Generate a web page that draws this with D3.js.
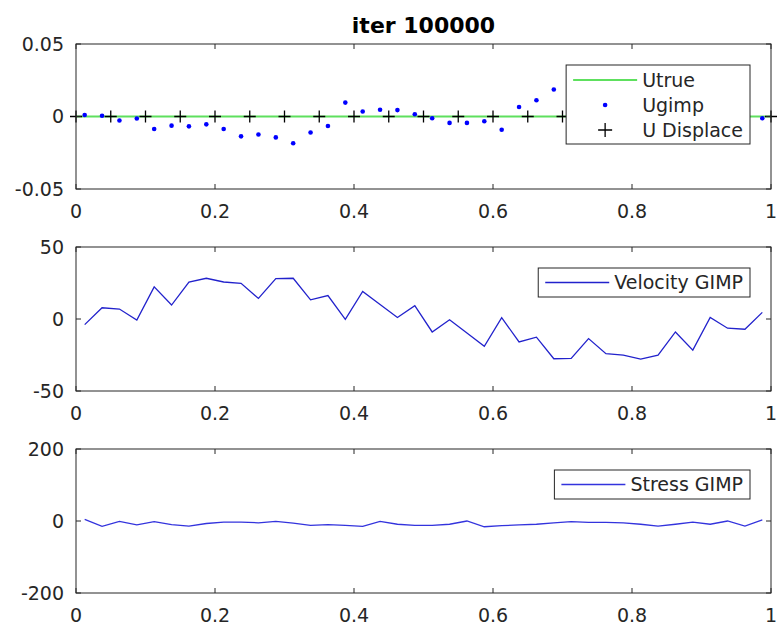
<!DOCTYPE html>
<html>
<head>
<meta charset="utf-8">
<script src="https://cdn.jsdelivr.net/npm/d3@7"></script>
<style>
  body { margin: 0; background: #fff; }
  svg { display: block; font-family: "DejaVu Sans", sans-serif; }
</style>
</head>
<body>
<div id="chart"></div>
<script>
const width = 777;
const height = 632;

// node positions (cell centres) and particle positions
const nodeX = [0.0125, 0.0375, 0.0625, 0.0875, 0.1125, 0.1375, 0.1625, 0.1875, 0.2125, 0.2375,
  0.2625, 0.2875, 0.3125, 0.3375, 0.3625, 0.3875, 0.4125, 0.4375, 0.4625, 0.4875,
  0.5125, 0.5375, 0.5625, 0.5875, 0.6125, 0.6375, 0.6625, 0.6875, 0.7125, 0.7375,
  0.7625, 0.7875, 0.8125, 0.8375, 0.8625, 0.8875, 0.9125, 0.9375, 0.9625, 0.9875];
const dispX = [0, 0.05, 0.1, 0.15, 0.2, 0.25, 0.3, 0.35, 0.4, 0.45, 0.5,
  0.55, 0.6, 0.65, 0.7, 0.75, 0.8, 0.85, 0.9, 0.95, 1];
const dispY = [0, 0, 0, 0, 0, 0, 0, 0, 0, 0, 0, 0, 0, 0, 0, 0, 0, 0, 0, 0, 0];
const trueX = [0, 1];
const trueY = [0, 0];

const ugimp = [0.001, 0.0005, -0.0028, -0.0014, -0.0086, -0.0063, -0.0068, -0.0054, -0.0086, -0.0137,
  -0.0124, -0.0144, -0.0184, -0.011, -0.0065, 0.0096, 0.0035, 0.0047, 0.0044, 0.0016,
  -0.0012, -0.0044, -0.0044, -0.0033, -0.0091, 0.0065, 0.0112, 0.0186, 0.012, 0.006,
  -0.002, -0.006, -0.008, -0.007, -0.004, -0.006, 0.002, 0.004, 0.001, -0.0012];
const velocity = [-3.9, 7.8, 6.9, -0.7, 22.3, 9.7, 25.7, 28.3, 25.7, 24.8,
  14.3, 28.0, 28.3, 13.3, 16.3, -0.2, 19.1, 10.0, 1.1, 9.2,
  -9.0, -0.5, -9.7, -18.9, 0.9, -15.9, -12.6, -27.6, -27.4, -13.6,
  -24.1, -25.1, -27.8, -25.1, -9.0, -21.6, 1.1, -6.4, -7.1, 4.6];
const stress = [4.7, -15, -1, -11, -2, -10, -14, -7, -3, -3,
  -5, -1, -6, -12, -10, -12, -15, -1, -9, -12,
  -12, -9, 0, -16, -13, -11, -9, -5, -2, -4,
  -4, -5, -9, -14, -9, -3, -9, 0, -14, 3];

const xTicks = [0, 0.2, 0.4, 0.6, 0.8, 1];
const yTicksU = [-0.05, 0, 0.05];
const yTicksV = [-50, 0, 50];
const yTicksS = [-200, 0, 200];

const ink = "#262626";
const fontSize = 19;
const left = 76, right = 771;

const svg = d3.select("#chart").append("svg")
  .attr("width", width)
  .attr("height", height);

const x = d3.scaleLinear().domain([0, 1]).range([left, right]);
const fmt = v => String(v);

function panel(top, bottom, yTicks) {
  const y = d3.scaleLinear().domain([yTicks[0], yTicks[2]]).range([bottom, top]);
  const g = svg.append("g");
  const clipId = "clip" + top;
  svg.append("clipPath").attr("id", clipId)
    .append("rect").attr("x", left).attr("y", top)
    .attr("width", right - left).attr("height", bottom - top);
  const plot = svg.append("g").attr("clip-path", `url(#${clipId})`);
  const free = svg.append("g");
  const axes = svg.append("g");

  // box
  axes.append("rect")
    .attr("x", left).attr("y", top)
    .attr("width", right - left).attr("height", bottom - top)
    .attr("fill", "none").attr("stroke", ink).attr("stroke-width", 1);

  // x ticks top and bottom
  axes.selectAll(".xt").data(xTicks).enter().append("path")
    .attr("d", d => `M${x(d)},${bottom}v-5M${x(d)},${top}v5`)
    .attr("stroke", ink);
  axes.selectAll(".xl").data(xTicks).enter().append("text")
    .attr("x", d => x(d)).attr("y", bottom + 29)
    .attr("text-anchor", "middle")
    .attr("font-size", fontSize).attr("fill", ink)
    .text(fmt);

  // y ticks left and right
  axes.selectAll(".yt").data(yTicks).enter().append("path")
    .attr("d", d => `M${left},${y(d)}h5M${right},${y(d)}h-5`)
    .attr("stroke", ink);
  axes.selectAll(".yl").data(yTicks).enter().append("text")
    .attr("x", left - 12).attr("y", d => y(d))
    .attr("dy", "0.36em")
    .attr("text-anchor", "end")
    .attr("font-size", fontSize).attr("fill", ink)
    .text(fmt);

  return { y, plot, free, axes, top, bottom };
}

function legend(p, entries) {
  const lg = svg.append("g");
  const rowH = 25, padT = 15, lineX0 = 7, lineLen = 64, gap = 5;
  const boxH = entries.length === 1 ? 29 : padT * 2 + rowH * (entries.length - 1) - 1;
  const box = lg.append("rect").attr("fill", "#fff").attr("stroke", ink).attr("stroke-width", 1);
  let maxW = 0;
  const items = entries.map((e, i) => {
    const cy = entries.length === 1 ? 14.5 : padT + rowH * i;
    const t = lg.append("text")
      .attr("y", cy).attr("dy", "0.36em")
      .attr("font-size", fontSize).attr("fill", ink)
      .text(e.label);
    maxW = Math.max(maxW, t.node().getComputedTextLength());
    return { e, cy, t };
  });
  const boxW = lineX0 + lineLen + gap + maxW + 7;
  const bx = right - 21 - boxW, by = p.top + 21;
  lg.attr("transform", `translate(${bx},${by})`);
  box.attr("width", boxW).attr("height", boxH);
  items.forEach(({ e, cy, t }) => {
    t.attr("x", lineX0 + lineLen + gap);
    const mid = lineX0 + lineLen / 2;
    if (e.type === "line") {
      lg.append("line")
        .attr("x1", lineX0).attr("x2", lineX0 + lineLen)
        .attr("y1", cy).attr("y2", cy)
        .attr("stroke", e.color).attr("stroke-width", e.w);
    } else if (e.type === "dot") {
      lg.append("circle").attr("cx", mid).attr("cy", cy).attr("r", 2.3).attr("fill", e.color);
    } else {
      lg.append("path").attr("d", `M${mid - 7},${cy}h14M${mid},${cy - 7}v14`)
        .attr("stroke", e.color).attr("stroke-width", 1.3);
    }
  });
}

// title
svg.append("text")
  .attr("x", (left + right) / 2).attr("y", 33)
  .attr("text-anchor", "middle")
  .attr("font-size", 22).attr("font-weight", "bold").attr("fill", "#000")
  .text("iter 100000");

// panel 1: displacement
const p1 = panel(44, 189, yTicksU);
p1.plot.append("path")
  .datum(trueX.map((d, i) => [d, trueY[i]]))
  .attr("d", d3.line().x(d => x(d[0])).y(d => p1.y(d[1])))
  .attr("fill", "none").attr("stroke", "#5ee05e").attr("stroke-width", 2);
p1.plot.selectAll(".dot").data(nodeX).enter().append("circle")
  .attr("cx", d => x(d)).attr("cy", (d, i) => p1.y(ugimp[i]))
  .attr("r", 2.3).attr("fill", "#0000ff");
p1.free.selectAll(".plus").data(dispX).enter().append("path")
  .attr("d", (d, i) => `M${x(d) - 6},${p1.y(dispY[i])}h12M${x(d)},${p1.y(dispY[i]) - 6}v12`)
  .attr("stroke", "#000").attr("stroke-width", 1.3);
legend(p1, [
  { label: "Utrue", type: "line", color: "#5ee05e", w: 2 },
  { label: "Ugimp", type: "dot", color: "#0000ff" },
  { label: "U Displace", type: "plus", color: "#000" }
]);

// panel 2: velocity
const p2 = panel(247, 391, yTicksV);
p2.plot.append("path")
  .datum(nodeX.map((d, i) => [d, velocity[i]]))
  .attr("d", d3.line().x(d => x(d[0])).y(d => p2.y(d[1])))
  .attr("fill", "none").attr("stroke", "#2222cc").attr("stroke-width", 1.3);
legend(p2, [{ label: "Velocity GIMP", type: "line", color: "#2222cc", w: 1.3 }]);

// panel 3: stress
const p3 = panel(449, 593, yTicksS);
p3.plot.append("path")
  .datum(nodeX.map((d, i) => [d, stress[i]]))
  .attr("d", d3.line().x(d => x(d[0])).y(d => p3.y(d[1])))
  .attr("fill", "none").attr("stroke", "#3333dd").attr("stroke-width", 1.3);
legend(p3, [{ label: "Stress GIMP", type: "line", color: "#3333dd", w: 1.3 }]);
</script>
</body>
</html>
